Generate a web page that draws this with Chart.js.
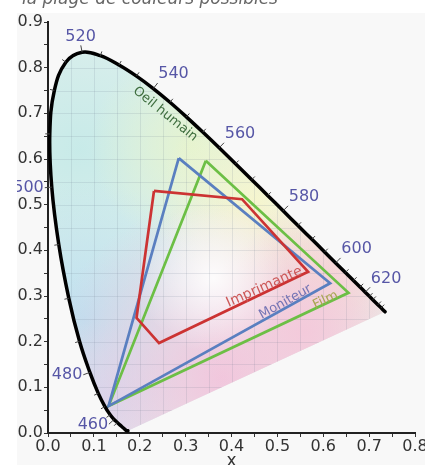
<!DOCTYPE html>
<html lang="fr">
<head>
<meta charset="utf-8">
<title>Diagramme de chromaticité</title>
<script src="https://cdn.jsdelivr.net/npm/chart.js@4.4.0/dist/chart.umd.min.js"></script>
<style>
  html, body { margin: 0; padding: 0; background: #fff; }
  canvas { display: block; }
</style>
</head>
<body>
<canvas id="chart" width="425" height="465"></canvas>
<script>
// Lieu spectral CIE 1931 (x, y)
const wavelengths = [380, 400, 420, 430, 440, 450, 455, 460, 465, 470, 475, 480, 485, 490, 495, 500, 505, 510, 515, 520, 525, 530, 535, 540, 545, 550, 555, 560, 565, 570, 575, 580, 585, 590, 595, 600, 605, 610, 615, 620, 625, 630, 640, 650, 660, 700];
const locusX = [0.1741, 0.1733, 0.1714, 0.1689, 0.1644, 0.1566, 0.1510, 0.1440, 0.1355, 0.1241, 0.1096, 0.0913, 0.0687, 0.0454, 0.0235, 0.0082, 0.0039, 0.0139, 0.0389, 0.0743, 0.1142, 0.1547, 0.1929, 0.2296, 0.2658, 0.3016, 0.3373, 0.3731, 0.4087, 0.4441, 0.4788, 0.5125, 0.5448, 0.5752, 0.6029, 0.6270, 0.6482, 0.6658, 0.6801, 0.6915, 0.7006, 0.7079, 0.7190, 0.7260, 0.7300, 0.7347];
const locusY = [0.0050, 0.0048, 0.0051, 0.0069, 0.0109, 0.0177, 0.0231, 0.0297, 0.0399, 0.0578, 0.0868, 0.1327, 0.2007, 0.2950, 0.4127, 0.5384, 0.6548, 0.7502, 0.8120, 0.8338, 0.8262, 0.8059, 0.7816, 0.7543, 0.7243, 0.6923, 0.6589, 0.6245, 0.5896, 0.5547, 0.5202, 0.4866, 0.4544, 0.4242, 0.3965, 0.3725, 0.3514, 0.3340, 0.3197, 0.3083, 0.2993, 0.2920, 0.2809, 0.2740, 0.2700, 0.2653];
const labelledWavelengths = [460, 480, 500, 520, 540, 560, 580, 600, 620];

// Gamuts
const monitorX = [0.285, 0.615, 0.132, 0.285];
const monitorY = [0.602, 0.328, 0.059, 0.602];
const filmX = [0.344, 0.655, 0.132, 0.344];
const filmY = [0.596, 0.307, 0.059, 0.596];
const printerX = [0.231, 0.423, 0.567, 0.242, 0.193, 0.231];
const printerY = [0.530, 0.512, 0.353, 0.197, 0.252, 0.530];

const xMin = 0, xMax = 0.8, yMin = 0, yMax = 0.9;
const FONT = "'DejaVu Sans', Verdana, sans-serif";

function toPoints(xs, ys) {
    return xs.map((x, i) => ({ x: x, y: ys[i] }));
}

document.addEventListener('DOMContentLoaded', function() {
    const ctx = document.getElementById('chart').getContext('2d');

    // Fond coloré du diagramme, découpé par le lieu spectral
    const horseshoeFill = {
        id: 'horseshoeFill',
        beforeDraw(chart) {
            const c = chart.ctx;
            c.save();
            c.fillStyle = '#ffffff';
            c.fillRect(0, 0, chart.width, chart.height);
            c.fillStyle = '#f8f8f8';
            c.fillRect(17, 13, chart.width - 17, chart.height - 13);
            // légende tronquée en haut
            c.fillStyle = '#666';
            c.font = 'italic 17px ' + FONT;
            c.textAlign = 'left';
            c.textBaseline = 'alphabetic';
            c.fillText('la plage de couleurs possibles', 22, 4);
            c.restore();
        },
        beforeDatasetsDraw(chart) {
            const c = chart.ctx;
            const sx = chart.scales.x, sy = chart.scales.y;
            const a = chart.chartArea;
            c.save();
            c.beginPath();
            locusX.forEach((v, i) => {
                const px = sx.getPixelForValue(v), py = sy.getPixelForValue(locusY[i]);
                if (i === 0) c.moveTo(px, py); else c.lineTo(px, py);
            });
            c.closePath();
            c.clip();
            c.fillStyle = '#e6f1ee';
            c.fillRect(a.left, a.top, a.right - a.left, a.bottom - a.top);

            const blobs = [
                { x: 0.07, y: 0.62, r: 200, color: '198,234,232', alpha: 0.95 },
                { x: 0.08, y: 0.25, r: 140, color: '185,222,240', alpha: 0.9 },
                { x: 0.13, y: 0.07, r: 80, color: '208,208,240', alpha: 0.6 },
                { x: 0.31, y: 0.63, r: 100, color: '230,244,205', alpha: 0.9 },
                { x: 0.45, y: 0.50, r: 100, color: '248,246,202', alpha: 0.9 },
                { x: 0.62, y: 0.35, r: 90, color: '250,220,208', alpha: 0.9 },
                { x: 0.38, y: 0.12, r: 180, color: '241,196,220', alpha: 0.95 },
                { x: 0.56, y: 0.22, r: 110, color: '244,200,218', alpha: 0.9 }
            ];
            blobs.forEach(b => {
                const px = sx.getPixelForValue(b.x), py = sy.getPixelForValue(b.y);
                const g = c.createRadialGradient(px, py, 0, px, py, b.r);
                g.addColorStop(0, 'rgba(' + b.color + ',' + b.alpha + ')');
                g.addColorStop(1, 'rgba(' + b.color + ',0)');
                c.fillStyle = g;
                c.fillRect(a.left, a.top, a.right - a.left, a.bottom - a.top);
            });
            // zone blanche au centre
            const wx = sx.getPixelForValue(0.36), wy = sy.getPixelForValue(0.34);
            const wg = c.createRadialGradient(wx, wy, 0, wx, wy, 75);
            wg.addColorStop(0, 'rgba(255,255,255,0.9)');
            wg.addColorStop(1, 'rgba(255,255,255,0)');
            c.fillStyle = wg;
            c.fillRect(a.left, a.top, a.right - a.left, a.bottom - a.top);

            // quadrillage léger dans la zone colorée
            c.strokeStyle = 'rgba(110,120,140,0.15)';
            c.lineWidth = 1;
            for (let i = 1; i < 16; i++) {
                const px = Math.round(sx.getPixelForValue(i * 0.05)) + 0.5;
                c.beginPath(); c.moveTo(px, a.top); c.lineTo(px, a.bottom); c.stroke();
            }
            for (let i = 1; i < 18; i++) {
                const py = Math.round(sy.getPixelForValue(i * 0.05)) + 0.5;
                c.beginPath(); c.moveTo(a.left, py); c.lineTo(a.right, py); c.stroke();
            }
            c.restore();
        },
        afterDatasetsDraw(chart) {
            const c = chart.ctx;
            const sx = chart.scales.x, sy = chart.scales.y;
            c.save();

            // graduations des longueurs d'onde
            c.strokeStyle = '#444';
            c.lineWidth = 1;
            for (let i = 6; i < wavelengths.length - 1; i++) {
                if (wavelengths[i] > 650) break;
                const p0 = [sx.getPixelForValue(locusX[i - 1]), sy.getPixelForValue(locusY[i - 1])];
                const p1 = [sx.getPixelForValue(locusX[i + 1]), sy.getPixelForValue(locusY[i + 1])];
                const p = [sx.getPixelForValue(locusX[i]), sy.getPixelForValue(locusY[i])];
                const dx = p1[0] - p0[0], dy = p1[1] - p0[1];
                const len = Math.hypot(dx, dy);
                const nx = dy / len, ny = -dx / len;
                const labelled = labelledWavelengths.includes(wavelengths[i]);
                const tl = labelled ? 7 : 4.5;
                c.beginPath();
                c.moveTo(p[0], p[1]);
                c.lineTo(p[0] + nx * tl, p[1] + ny * tl);
                c.stroke();

                if (labelled) {
                    c.save();
                    c.beginPath();
                    c.rect(17, 0, chart.width, chart.height);
                    c.clip();
                    c.fillStyle = '#5656a6';
                    c.font = '16px ' + FONT;
                    c.textAlign = nx > 0.3 ? 'left' : (nx < -0.3 ? 'right' : 'center');
                    c.textBaseline = ny < -0.5 ? 'bottom' : 'middle';
                    c.fillText(String(wavelengths[i]), p[0] + nx * 8, p[1] + ny * 8);
                    c.restore();
                }
            }

            // noms des gamuts
            const names = [
                { text: 'Oeil humain', x: 0.2555, y: 0.6985, angle: 39, color: '#3f6e3f', size: 13 },
                { text: 'Imprimante', x: 0.4716, y: 0.3197, angle: -24, color: '#cc5858', size: 14 },
                { text: 'Moniteur', x: 0.5175, y: 0.2868, angle: -29, color: '#7474b4', size: 13 },
                { text: 'Film', x: 0.605, y: 0.291, angle: -26, color: '#a8a550', size: 13 }
            ];
            names.forEach(n => {
                c.save();
                c.translate(sx.getPixelForValue(n.x), sy.getPixelForValue(n.y));
                c.rotate(n.angle * Math.PI / 180);
                c.fillStyle = n.color;
                c.font = n.size + 'px ' + FONT;
                c.textAlign = 'center';
                c.textBaseline = 'middle';
                c.fillText(n.text, 0, 0);
                c.restore();
            });

            // titre de l'axe x (tronqué)
            c.fillStyle = '#333';
            c.font = '17px ' + FONT;
            c.textAlign = 'center';
            c.textBaseline = 'alphabetic';
            c.fillText('x', sx.getPixelForValue(0.4), 466);
            c.restore();
        }
    };

    const tickLabel = function(value) {
        const hundredths = Math.round(value * 100);
        return hundredths % 10 === 0 ? (hundredths / 100).toFixed(1) : '';
    };

    new Chart(ctx, {
        type: 'scatter',
        data: {
            datasets: [
                {
                    label: 'Oeil humain',
                    data: toPoints(locusX, locusY),
                    showLine: true,
                    tension: 0.4,
                    borderColor: '#000',
                    borderWidth: 3.5,
                    borderJoinStyle: 'round',
                    borderCapStyle: 'round',
                    pointRadius: 0
                },
                {
                    label: 'Imprimante',
                    data: toPoints(printerX, printerY),
                    showLine: true,
                    borderColor: '#cc3333',
                    borderWidth: 2.7,
                    pointRadius: 0
                },
                {
                    label: 'Moniteur',
                    data: toPoints(monitorX, monitorY),
                    showLine: true,
                    borderColor: '#5a7fc0',
                    borderWidth: 2.7,
                    pointRadius: 0
                },
                {
                    label: 'Film',
                    data: toPoints(filmX, filmY),
                    showLine: true,
                    borderColor: '#6cbf45',
                    borderWidth: 2.7,
                    pointRadius: 0
                }
            ]
        },
        options: {
            responsive: false,
            devicePixelRatio: 1,
            animation: false,
            layout: { padding: { top: 22, right: 10, left: 0, bottom: 0 } },
            plugins: {
                legend: { display: false },
                tooltip: { enabled: false }
            },
            scales: {
                x: {
                    type: 'linear',
                    min: xMin,
                    max: xMax,
                    afterFit(scale) {
                        scale.height = 32;
                        scale.paddingLeft = 0;
                        scale.paddingRight = 0;
                    },
                    ticks: {
                        stepSize: 0.05,
                        autoSkip: false,
                        maxRotation: 0,
                        padding: 0,
                        color: '#333',
                        font: { family: FONT, size: 16 },
                        callback: tickLabel
                    },
                    grid: {
                        drawOnChartArea: false,
                        tickLength: 4,
                        tickColor: '#333'
                    },
                    border: { color: '#222', width: 2 }
                },
                y: {
                    type: 'linear',
                    min: yMin,
                    max: yMax,
                    afterFit(scale) {
                        scale.width = 48;
                        scale.paddingTop = 0;
                        scale.paddingBottom = 0;
                    },
                    ticks: {
                        stepSize: 0.05,
                        autoSkip: false,
                        padding: 1,
                        color: '#333',
                        font: { family: FONT, size: 16 },
                        callback: tickLabel
                    },
                    grid: {
                        drawOnChartArea: false,
                        tickLength: 4,
                        tickColor: '#333'
                    },
                    border: { color: '#222', width: 2 }
                }
            }
        },
        plugins: [horseshoeFill]
    });
});
</script>
</body>
</html>
